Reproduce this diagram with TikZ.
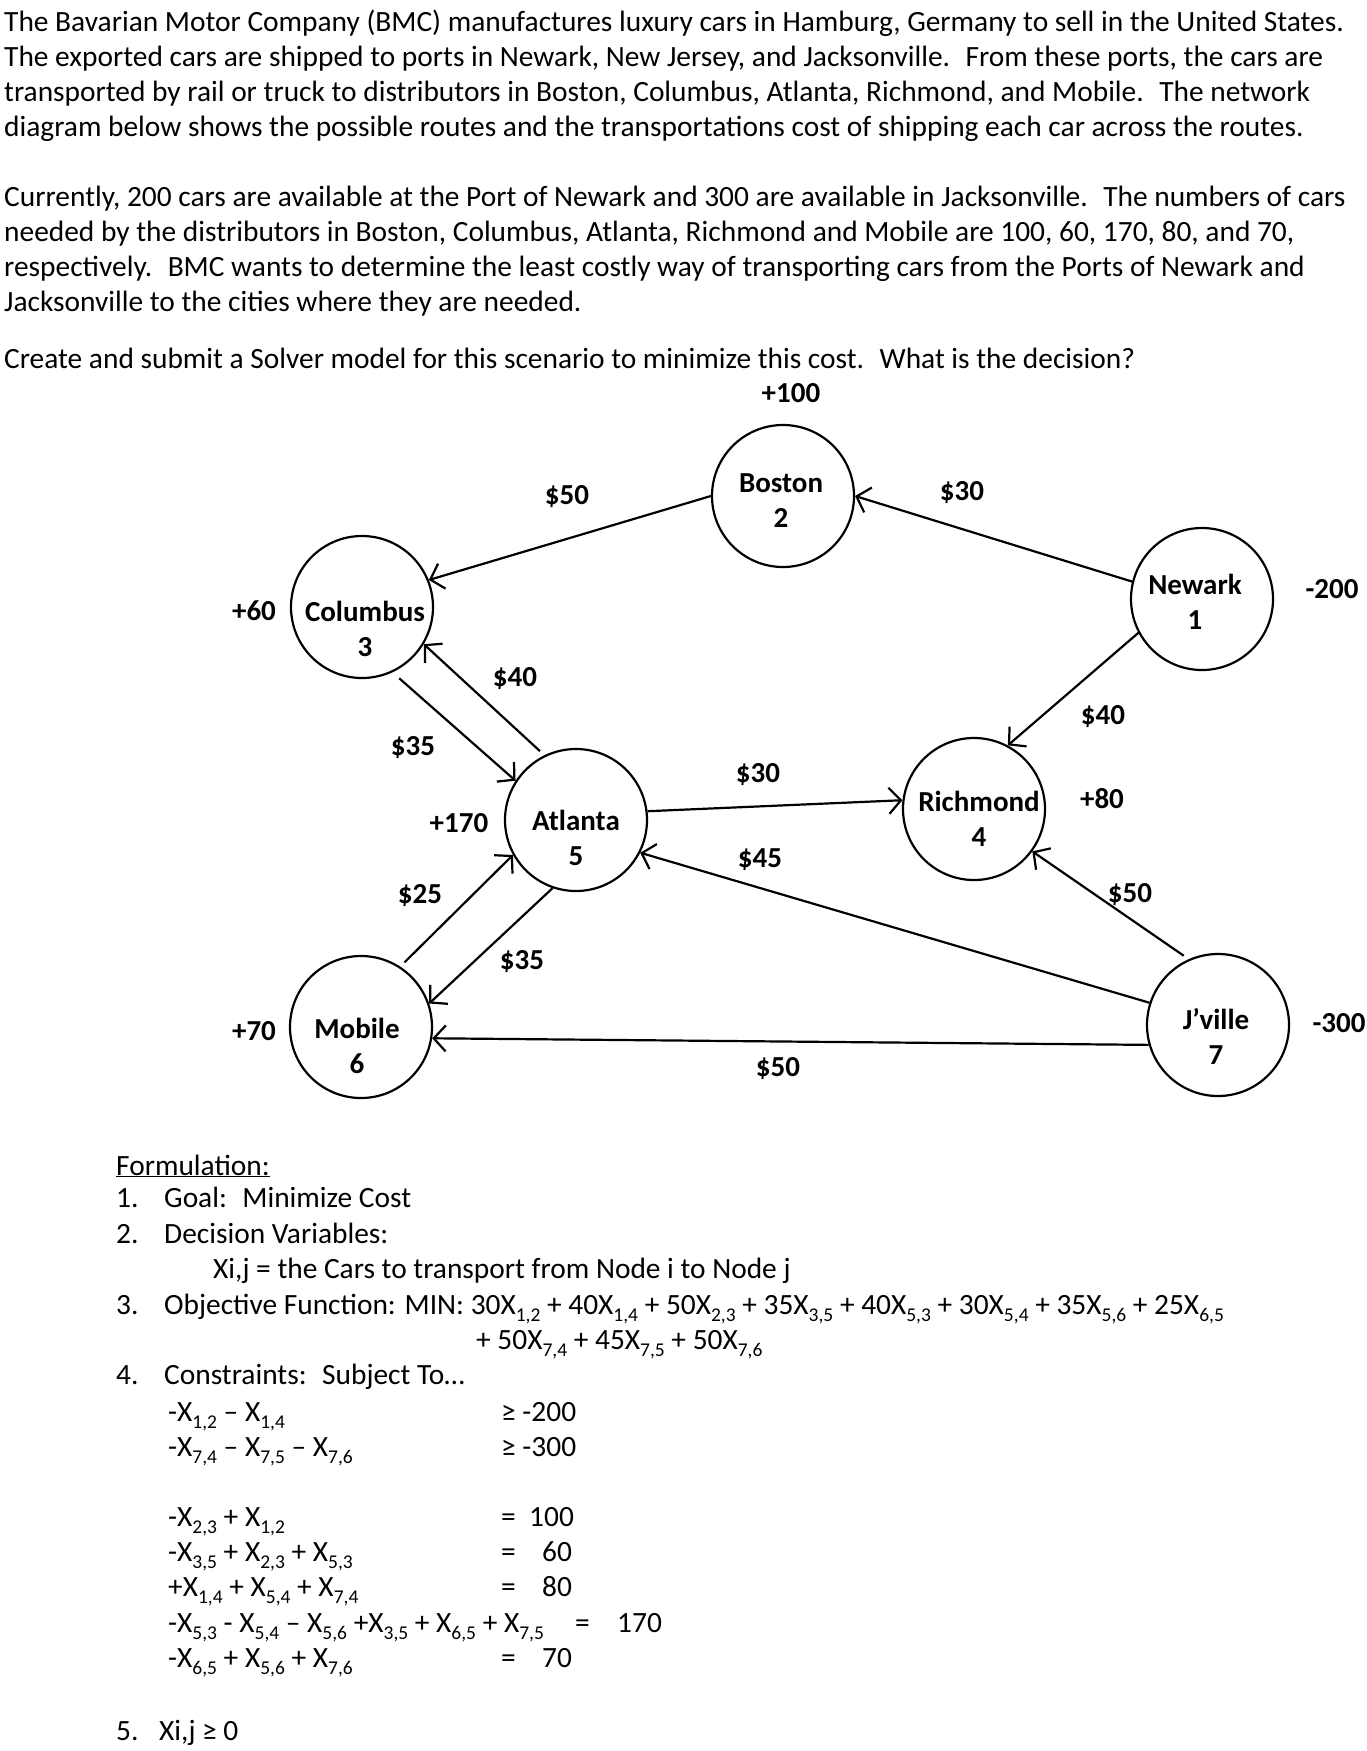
\documentclass[tikz,border=0pt]{standalone}
\usepackage{fontspec}
\setmainfont{Carlito}
\usetikzlibrary{arrows.meta}
\newcommand\sbs[1]{\raisebox{-7pt}{\fontsize{19.5}{19.5}\selectfont #1}}
\begin{document}
\begin{tikzpicture}[x=1pt,y=-1pt,
  txt/.style={anchor=base west, inner sep=0, font=\fontsize{29.4}{35}\selectfont},
  city/.style={circle, draw, line width=2.2pt, minimum size=142pt, inner sep=0},
  cname/.style={inner sep=0, align=center, font=\fontsize{29}{35}\selectfont\bfseries},
  lab/.style={inner sep=0, font=\fontsize{29}{35}\selectfont\bfseries},
  arr/.style={line width=2.2pt, -{Straight Barb[length=12pt,width=26pt]}}]
\useasboundingbox (0,0) rectangle (1367,1751);
\fill[white] (0,0) rectangle (1367,1751);

% ---- problem text
\node[txt] (p1) at (4,31) {The Bavarian Motor Company (BMC) manufactures luxury cars in Hamburg, Germany to sell in the United States.};
\node[txt] (p2) at (4,66) {The exported cars are shipped to ports in Newark, New Jersey, and Jacksonville.~ From these ports, the cars are};
\node[txt] (p3) at (4,101) {transported by rail or truck to distributors in Boston, Columbus, Atlanta, Richmond, and Mobile.~ The network};
\node[txt] (p4) at (4,136) {diagram below shows the possible routes and the transportations cost of shipping each car across the routes.};
\node[txt] (q1) at (4,206) {Currently, 200 cars are available at the Port of Newark and 300 are available in Jacksonville.~ The numbers of cars};
\node[txt] (q2) at (4,241) {needed by the distributors in Boston, Columbus, Atlanta, Richmond and Mobile are 100, 60, 170, 80, and 70,};
\node[txt] (q3) at (4,276) {respectively.~ BMC wants to determine the least costly way of transporting cars from the Ports of Newark and};
\node[txt] (q4) at (4,311) {Jacksonville to the cities where they are needed.};
\node[txt] (q5) at (4,368) {Create and submit a Solver model for this scenario to minimize this cost.~ What is the decision?};

% ---- network
\node[city] (newark)   at (1202,599) {};
\node[city] (boston)   at (783,496) {};
\node[city] (columbus) at (362,607) {};
\node[city] (richmond) at (974,809) {};
\node[city] (atlanta)  at (576,820) {};
\node[city] (mobile)   at (361,1027) {};
\node[city] (jville)   at (1218,1025) {};

\node[cname] (newarkT)   at (1195,602) {Newark\\1};
\node[cname] (bostonT)   at (781,501) {Boston\\2};
\node[cname] (columbusT) at (365,629) {Columbus\\3};
\node[cname] (richmondT) at (979,819) {Richmond\\4};
\node[cname] (atlantaT)  at (576,838) {Atlanta\\5};
\node[cname] (mobileT)   at (357,1046) {Mobile\\6};
\node[cname] (jvilleT)   at (1216,1036) {J’ville\\7};

\draw[arr] (newark.166) -- (boston.0);
\draw[arr] (boston.180) -- (columbus.22);
\draw[arr, shorten <=6pt] (atlanta.116) -- (columbus.-31);
\draw[arr, shorten <=9pt] (columbus.-65) -- (atlanta.147);
\draw[arr] (atlanta.7) -- (richmond.173);
\draw[arr] (newark.-152) -- (richmond.62);
\draw[arr] (jville.162) -- (atlanta.-27);
\draw[arr, shorten <=6pt] (jville.114) -- (richmond.-36);
\draw[arr] (jville.-164) -- (mobile.-9);
\draw[arr] (atlanta.-109) -- (mobile.19);
\draw[arr, shorten <=6pt] (mobile.57) -- (atlanta.-151);

\node[lab] (l100) at (791,393) {+100};
\node[lab] (c23) at (567,497) {\$50};
\node[lab] (c12) at (962,493) {\$30};
\node[lab] (l200) at (1332,589) {-200};
\node[lab] (l60) at (254,611) {+60};
\node[lab] (c53) at (515,679) {\$40};
\node[lab] (c35) at (413,748) {\$35};
\node[lab] (c54) at (758,775) {\$30};
\node[lab] (c14) at (1103,717) {\$40};
\node[lab] (l80) at (1102,799) {+80};
\node[lab] (l170) at (459,823) {+170};
\node[lab] (c75) at (760,860) {\$45};
\node[lab] (c65) at (420,896) {\$25};
\node[lab] (c74) at (1130,895) {\$50};
\node[lab] (c56) at (522,962) {\$35};
\node[lab] (l70) at (254,1031) {+70};
\node[lab] (c76) at (778,1069) {\$50};
\node[lab] (l300) at (1339,1023) {-300};

% ---- formulation
\node[txt] (f0) at (116,1175) {\underline{Formulation:}};
\node[txt] (n1) at (116,1207) {1.};
\node[txt] (f1) at (164,1207) {Goal:~ Minimize Cost};
\node[txt] (n2) at (116,1243) {2.};
\node[txt] (f2) at (164,1243) {Decision Variables:};
\node[txt] (f2b) at (213,1278) {Xi,j = the Cars to transport from Node i to Node j};
\node[txt] (n3) at (116,1314) {3.};
\node[txt] (f3) at (164,1314) {Objective Function: MIN: 30X\sbs{1,2} + 40X\sbs{1,4} + 50X\sbs{2,3} + 35X\sbs{3,5} + 40X\sbs{5,3} + 30X\sbs{5,4} + 35X\sbs{5,6} + 25X\sbs{6,5}};
\node[txt] (f3b) at (476,1349) {+ 50X\sbs{7,4} + 45X\sbs{7,5} + 50X\sbs{7,6}};
\node[txt] (n4) at (116,1384) {4.};
\node[txt] (f4) at (164,1384) {Constraints:~ Subject To…};

\node[txt] (k1) at (168,1421) {-X\sbs{1,2} – X\sbs{1,4}};
\node[txt] (r1) at (501,1421) {≥ -200};
\node[txt] (k2) at (168,1456) {-X\sbs{7,4} – X\sbs{7,5} – X\sbs{7,6}};
\node[txt] (r2) at (501,1456) {≥ -300};
\node[txt] (k3) at (168,1526) {-X\sbs{2,3} + X\sbs{1,2}};
\node[txt] (e3) at (501,1526) {=};
\node[txt] (r3) at (529,1526) {100};
\node[txt] (k4) at (168,1561) {-X\sbs{3,5} + X\sbs{2,3} + X\sbs{5,3}};
\node[txt] (e4) at (501,1561) {=};
\node[txt] (r4) at (542,1561) {60};
\node[txt] (k5) at (168,1596) {+X\sbs{1,4} + X\sbs{5,4} + X\sbs{7,4}};
\node[txt] (e5) at (501,1596) {=};
\node[txt] (r5) at (542,1596) {80};
\node[txt] (k6) at (168,1632) {-X\sbs{5,3} - X\sbs{5,4} – X\sbs{5,6} +X\sbs{3,5} + X\sbs{6,5} + X\sbs{7,5}};
\node[txt] (e6) at (575,1632) {=};
\node[txt] (r6) at (617,1632) {170};
\node[txt] (k7) at (168,1667) {-X\sbs{6,5} + X\sbs{5,6} + X\sbs{7,6}};
\node[txt] (e7) at (501,1667) {=};
\node[txt] (r7) at (542,1667) {70};
\node[txt] (n5) at (116,1740) {5.};
\node[txt] (f5) at (159,1740) {Xi,j ≥ 0};
\end{tikzpicture}
\end{document}
